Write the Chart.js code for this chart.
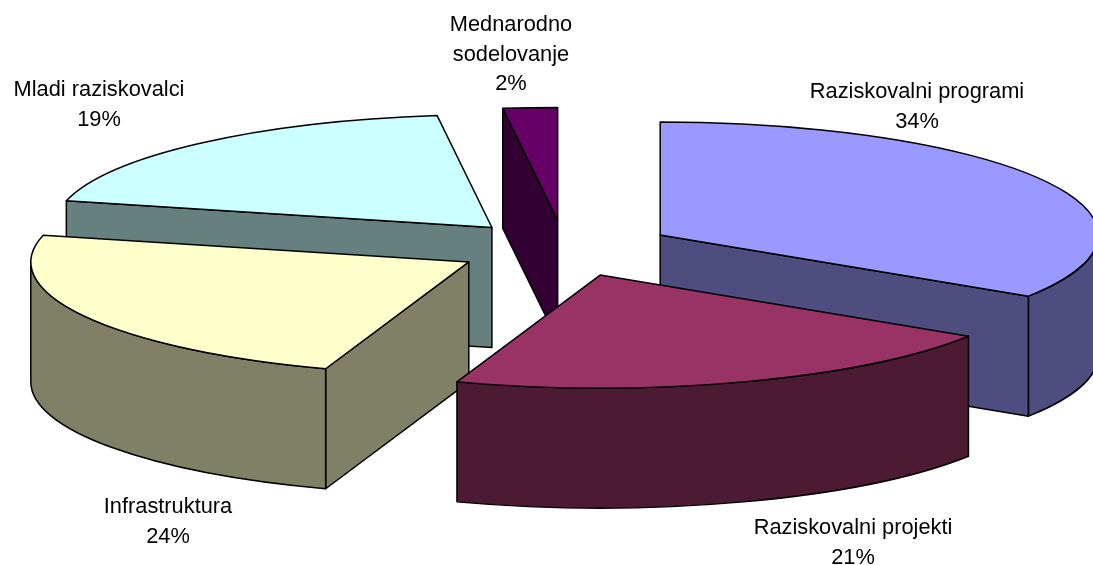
<!DOCTYPE html>
<html>
<head>
<meta charset="utf-8">
<title>Pie</title>
<style>
  html, body { margin: 0; padding: 0; background: #fff; }
  #wrap { width: 1093px; height: 565px; }
</style>
<script src="https://cdn.jsdelivr.net/npm/chart.js@4/dist/chart.umd.min.js"></script>
</head>
<body>
<div id="wrap"><canvas id="pie"></canvas></div>
<script>
const categories = ['Raziskovalni programi', 'Raziskovalni projekti', 'Infrastruktura', 'Mladi raziskovalci', 'Mednarodno sodelovanje'];
// the printed labels round these
const shares = [34.1, 21.2, 23.5, 19.2, 2.0];
const topColors = ['#9999FF', '#993366', '#FFFFCC', '#CCFFFF', '#660066'];
const sideColors = ['#4D4D80', '#4D1A33', '#808066', '#668080', '#330033'];
const labelLines = [['Raziskovalni programi'], ['Raziskovalni projekti'], ['Infrastruktura'], ['Mladi raziskovalci'], ['Mednarodno', 'sodelovanje']];

// Look of the 3D pie, not data.
const RADIUS = 438;
const TILT = 0.258;     // squash of the circle into an ellipse
const DEPTH = 120;
const EXPLODE = 109;
const LABEL_AT = [[917, 92], [853, 528], [168, 507], [99, 90], [511, 25]];
const LINE_H = 29.5;

// Pie seen from above: each arc is the library's own element, drawn squashed and
// pulled out, with the cut faces and the rim added underneath it.
const pie3d = {
  id: 'pie3d',
  beforeDatasetDraw(chart, args) {
    const ctx = chart.ctx;
    const arcs = args.meta.data;

    const placed = arcs.map((arc, i) => {
      const mid = (arc.startAngle + arc.endAngle) / 2;
      return {
        arc, i,
        x: arc.x + Math.cos(mid) * EXPLODE,
        y: arc.y + Math.sin(mid) * EXPLODE * TILT
      };
    }).sort((a, b) => a.y - b.y);

    placed.forEach(p => {
      const {arc, i, x, y} = p;
      const a = arc.startAngle, b = arc.endAngle;
      const px = (t) => x + Math.cos(t) * RADIUS;
      const py = (t) => y + Math.sin(t) * RADIUS * TILT;

      ctx.save();
      ctx.lineWidth = 1.5;
      ctx.lineJoin = 'round';
      ctx.strokeStyle = '#000';
      ctx.fillStyle = sideColors[i];

      const cutFace = (t) => {
        ctx.beginPath();
        ctx.moveTo(x, y);
        ctx.lineTo(px(t), py(t));
        ctx.lineTo(px(t), py(t) + DEPTH);
        ctx.lineTo(x, y + DEPTH);
        ctx.closePath();
        ctx.fill();
        ctx.stroke();
      };
      if (Math.cos(a) < -1e-6) cutFace(a);
      if (Math.cos(b) > 1e-6) cutFace(b);

      // rim only shows on the near half of the ellipse
      const from = Math.max(a, 0), to = Math.min(b, Math.PI);
      if (to > from) {
        ctx.beginPath();
        ctx.ellipse(x, y, RADIUS, RADIUS * TILT, 0, from, to);
        ctx.lineTo(px(to), py(to) + DEPTH);
        ctx.ellipse(x, y + DEPTH, RADIUS, RADIUS * TILT, 0, to, from, true);
        ctx.closePath();
        ctx.fill();
        ctx.stroke();
      }

      // top face
      ctx.save();
      ctx.translate(x, y);
      ctx.scale(1, TILT);
      ctx.translate(-arc.x, -arc.y);
      arc.draw(ctx);
      ctx.restore();

      ctx.beginPath();
      ctx.moveTo(x, y);
      ctx.ellipse(x, y, RADIUS, RADIUS * TILT, 0, a, b);
      ctx.closePath();
      ctx.stroke();
      ctx.restore();
    });
    return false;
  },
  afterDraw(chart) {
    const ctx = chart.ctx;
    ctx.save();
    ctx.fillStyle = '#000';
    ctx.font = '21.8px "Liberation Sans", Arial, sans-serif';
    ctx.textAlign = 'center';
    ctx.textBaseline = 'middle';
    labelLines.forEach((lines, i) => {
      const [lx, ly] = LABEL_AT[i];
      lines.concat(Math.round(shares[i]) + '%').forEach((t, n) => ctx.fillText(t, lx, ly + n * LINE_H));
    });
    ctx.restore();
  }
};

new Chart(document.getElementById('pie').getContext('2d'), {
  type: 'pie',
  data: {
    labels: categories,
    datasets: [{
      data: shares,
      backgroundColor: topColors,
      borderWidth: 0
    }]
  },
  options: {
    responsive: true,
    maintainAspectRatio: false,
    animation: false,
    radius: RADIUS,
    layout: {padding: {left: 36, bottom: 68}},
    plugins: {legend: {display: false}, tooltip: {enabled: false}}
  },
  plugins: [pie3d]
});
</script>
</body>
</html>
